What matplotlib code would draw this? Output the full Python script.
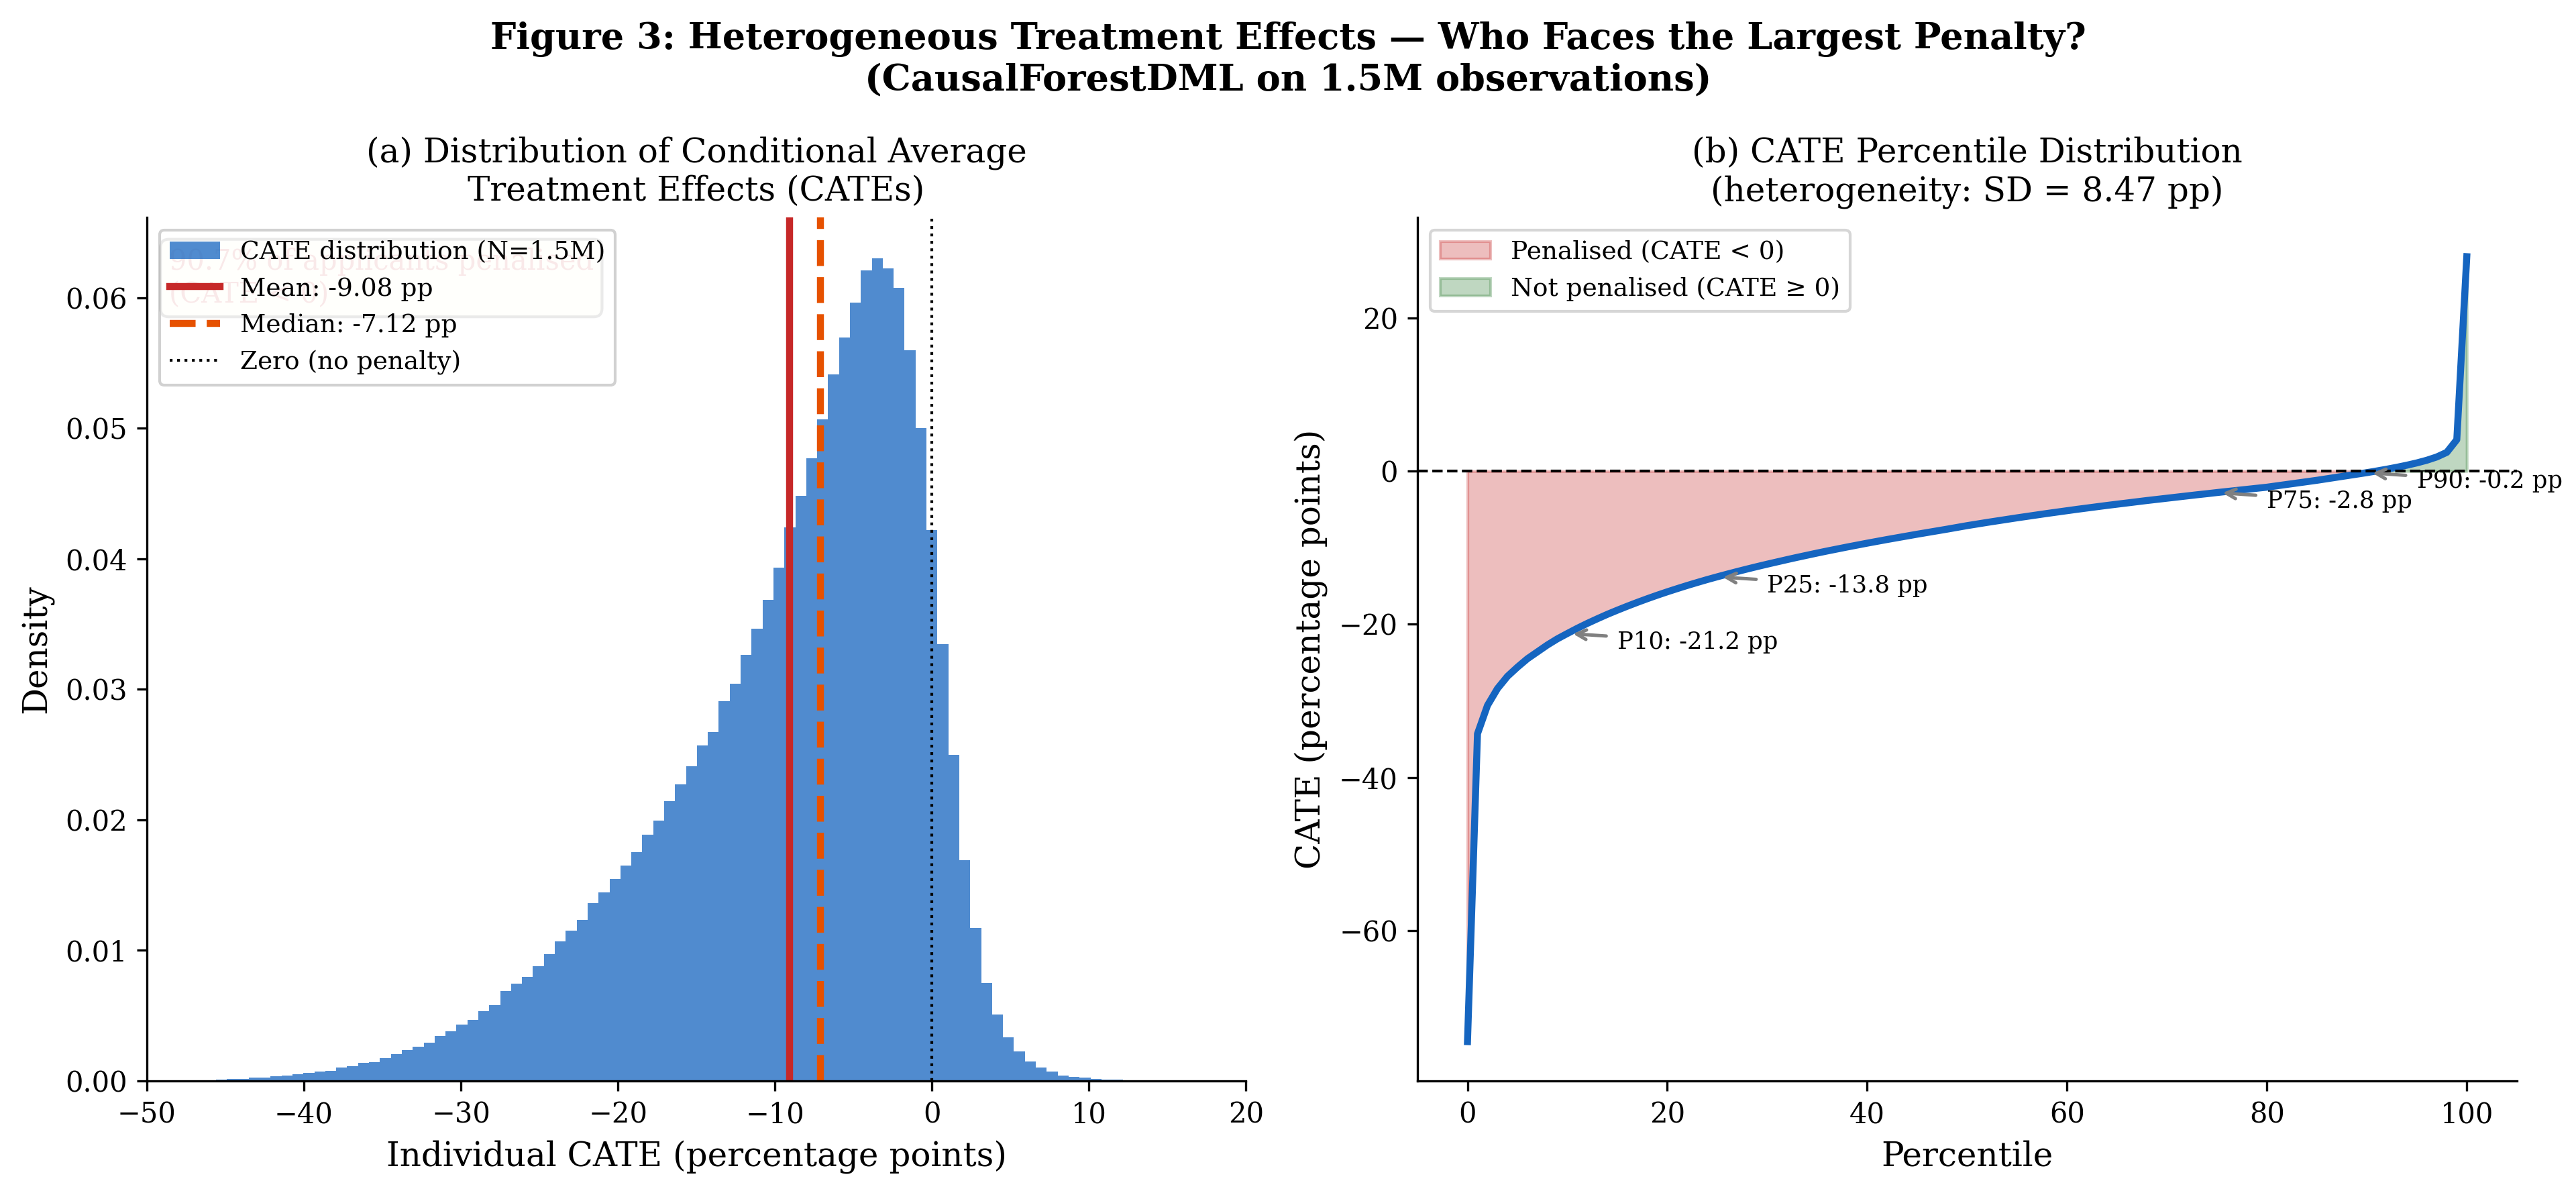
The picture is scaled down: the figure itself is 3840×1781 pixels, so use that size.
import numpy as np
import matplotlib
matplotlib.use("Agg")
from matplotlib import pyplot as plt

plt.rcParams["font.family"] = "DejaVu Serif"

# histogram of individual CATEs (density per bin)
hist_first_edge = -49.774
hist_bin_width = 0.6961
cate_density = [
    0.00001, 0.00001, 0.00002, 0.00002, 0.00004, 0.00005, 0.00009, 0.00013,
    0.00015, 0.00023, 0.00025, 0.00034, 0.00039, 0.00050, 0.00059, 0.00069,
    0.00079, 0.00100, 0.00115, 0.00136, 0.00146, 0.00172, 0.00203, 0.00234,
    0.00264, 0.00290, 0.00342, 0.00378, 0.00429, 0.00468, 0.00535, 0.00582,
    0.00690, 0.00746, 0.00798, 0.00880, 0.00973, 0.01071, 0.01153, 0.01235,
    0.01360, 0.01443, 0.01548, 0.01649, 0.01750, 0.01887, 0.01995, 0.02145,
    0.02270, 0.02408, 0.02572, 0.02670, 0.02907, 0.03042, 0.03265, 0.03466,
    0.03687, 0.03934, 0.04240, 0.04483, 0.04771, 0.05069, 0.05414, 0.05697,
    0.05965, 0.06207, 0.06300, 0.06227, 0.06078, 0.05600, 0.05003, 0.04220,
    0.03345, 0.02496, 0.01691, 0.01172, 0.00750, 0.00508, 0.00333, 0.00225,
    0.00148, 0.00101, 0.00070, 0.00039, 0.00029, 0.00024, 0.00014, 0.00009,
    0.00009, 0.00003, 0.00002, 0.00001,
]
cate_mean = -9.08
cate_median = -7.12
share_penalised = 90.7

# CATE by percentile 0..100
percentiles = list(range(101))
cate_pct = [
    -74.5, -34.3, -30.6, -28.4, -26.8, -25.6, -24.5, -23.6, -22.7, -21.9,
    -21.2, -20.52, -19.88, -19.28, -18.70, -18.16, -17.64, -17.14, -16.66, -16.20,
    -15.76, -15.34, -14.93, -14.54, -14.16, -13.80, -13.45, -13.11, -12.78, -12.46,
    -12.15, -11.85, -11.55, -11.26, -10.98, -10.70, -10.43, -10.17, -9.91, -9.66,
    -9.41, -9.17, -8.93, -8.70, -8.47, -8.24, -8.02, -7.80, -7.58, -7.35,
    -7.12, -6.91, -6.70, -6.50, -6.30, -6.10, -5.91, -5.72, -5.53, -5.35,
    -5.17, -4.99, -4.82, -4.65, -4.48, -4.32, -4.16, -4.00, -3.84, -3.69,
    -3.54, -3.39, -3.24, -3.09, -2.95, -2.80, -2.66, -2.52, -2.38, -2.24,
    -2.10, -1.92, -1.74, -1.56, -1.38, -1.20, -1.00, -0.80, -0.60, -0.40,
    -0.20, 0.02, 0.25, 0.50, 0.77, 1.07, 1.42, 1.85, 2.45, 4.10,
    28.0,
]
marked_pcts = [10, 25, 75, 90]
marked_vals = [-21.2, -13.8, -2.8, -0.2]
cate_sd = 8.47

fig, (ax1, ax2) = plt.subplots(1, 2, figsize=(12.8, 5.937))
fig.subplots_adjust(left=0.057, right=0.977, bottom=0.0955, top=0.818, wspace=0.156)

# (a) histogram
edges = hist_first_edge + hist_bin_width * np.arange(len(cate_density) + 1)
ax1.hist(edges[:-1], bins=edges, weights=cate_density, color="#1565c0",
         alpha=0.75, label="CATE distribution (N=1.5M)")
ax1.axvline(cate_mean, color="#c62828", lw=2.5, label=f"Mean: {cate_mean:.2f} pp")
ax1.axvline(cate_median, color="#e65100", lw=2.5, ls="--",
            label=f"Median: {cate_median:.2f} pp")
ax1.axvline(0, color="black", lw=1, ls=":", label="Zero (no penalty)")
# sits under the legend, as in the original
ax1.text(0.02, 0.965, f"{share_penalised}% of applicants penalised\n(CATE < 0)",
         transform=ax1.transAxes, va="top", fontsize=10, color="#c62828",
         bbox=dict(boxstyle="round", facecolor="lightyellow", alpha=0.8))
ax1.set_xlim(-50, 20)
ax1.set_xlabel("Individual CATE (percentage points)", fontsize=12)
ax1.set_ylabel("Density", fontsize=12)
ax1.set_title("(a) Distribution of Conditional Average\nTreatment Effects (CATEs)",
              fontsize=12)
ax1.legend(loc="upper left", fontsize=9, framealpha=0.9)

# (b) percentile curve
pct = np.array(percentiles)
vals = np.array(cate_pct)
ax2.fill_between(pct, vals, 0, where=vals < 0, color="#c62828", alpha=0.3,
                 interpolate=True, label="Penalised (CATE < 0)")
ax2.fill_between(pct, vals, 0, where=vals >= 0, color="#2e7d32", alpha=0.3,
                 interpolate=True, label="Not penalised (CATE \u2265 0)")
ax2.plot(pct, vals, color="#1565c0", lw=2.5)
ax2.axhline(0, color="black", lw=1, ls="--")
for p, v in zip(marked_pcts, marked_vals):
    ax2.annotate(f"P{p}: {v:.1f} pp", xy=(p, v), xytext=(p + 5, v - 2),
                 fontsize=8.5,
                 arrowprops=dict(arrowstyle="->", color="gray", lw=1.2))
ax2.set_xlabel("Percentile", fontsize=12)
ax2.set_ylabel("CATE (percentage points)", fontsize=12)
ax2.set_title(f"(b) CATE Percentile Distribution\n(heterogeneity: SD = {cate_sd} pp)",
              fontsize=12)
ax2.legend(loc="upper left", fontsize=9)

for ax in (ax1, ax2):
    ax.spines["top"].set_visible(False)
    ax.spines["right"].set_visible(False)
    ax.tick_params(labelsize=10)

fig.suptitle("Figure 3: Heterogeneous Treatment Effects \u2014 Who Faces the Largest Penalty?\n"
             "(CausalForestDML on 1.5M observations)",
             fontsize=13, fontweight="bold", y=0.982)

plt.savefig("out.png", dpi=300)
